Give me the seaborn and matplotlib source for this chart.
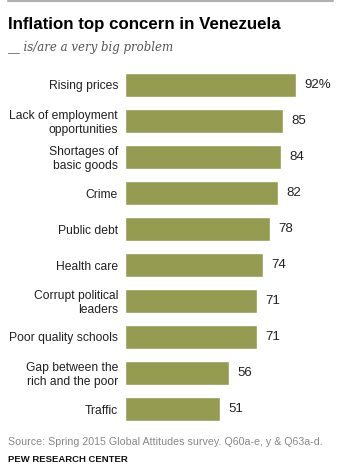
import matplotlib
matplotlib.use("Agg")
import matplotlib.pyplot as plt
import seaborn as sns
import pandas as pd

# Data
concerns = [
    "Rising prices",
    "Lack of employment\nopportunities",
    "Shortages of\nbasic goods",
    "Crime",
    "Public debt",
    "Health care",
    "Corrupt political\nleaders",
    "Poor quality schools",
    "Gap between the\nrich and the poor",
    "Traffic",
]
pct = [92, 85, 84, 82, 78, 74, 71, 71, 56, 51]
value_labels = ["92%", "85", "84", "82", "78", "74", "71", "71", "56", "51"]

bar_color = "#959C51"

sns.set_style("white")
plt.rcParams["font.family"] = ["Liberation Sans", "DejaVu Sans"]

df = pd.DataFrame({"concern": concerns, "pct": pct})

fig = plt.figure(figsize=(3.64, 4.75), dpi=100)
ax = fig.add_axes([125 / 364, 1 - 427 / 475, 186 / 364, 360 / 475])

sns.barplot(data=df, x="pct", y="concern", color=bar_color, saturation=1,
            width=0.67, ax=ax, orient="h")

ax.set_xlim(0, 100)
ax.set_ylim(9.5, -0.5)
ax.set_xlabel("")
ax.set_ylabel("")
ax.set_xticks([])
ax.tick_params(axis="y", length=0, pad=5, labelsize=8.7, labelcolor="#222222")
for lbl in ax.get_yticklabels():
    lbl.set_horizontalalignment("right")
    lbl.set_multialignment("right")
    lbl.set_linespacing(1.2)
sns.despine(ax=ax, left=True, bottom=True)

for i, (v, t) in enumerate(zip(pct, value_labels)):
    ax.text(v + 4.5, i, t, va="center", ha="left", fontsize=9.5, color="#222222")

# Header and footer
fig.add_artist(plt.Line2D([8 / 364, 333 / 364], [1 - 1 / 475, 1 - 1 / 475],
                          color="#b0b0b0", lw=1.5))
fig.text(8 / 364, 1 - 24 / 475, "Inflation top concern in Venezuela",
         fontsize=12.2, fontweight="bold", va="center", ha="left", color="#000000")
fig.text(8 / 364, 1 - 47 / 475, "__ is/are a very big problem",
         fontsize=8.5, style="italic", family=["DejaVu Serif"], va="center",
         ha="left", color="#555555")
fig.text(8 / 364, 1 - 442 / 475,
         "Source: Spring 2015 Global Attitudes survey. Q60a-e, y & Q63a-d.",
         fontsize=7.7, color="#888888", va="center", ha="left")
fig.text(8 / 364, 1 - 460 / 475, "PEW RESEARCH CENTER",
         fontsize=6.8, fontweight="bold", color="#111111", va="center", ha="left")

fig.savefig("out.png", dpi=100)
